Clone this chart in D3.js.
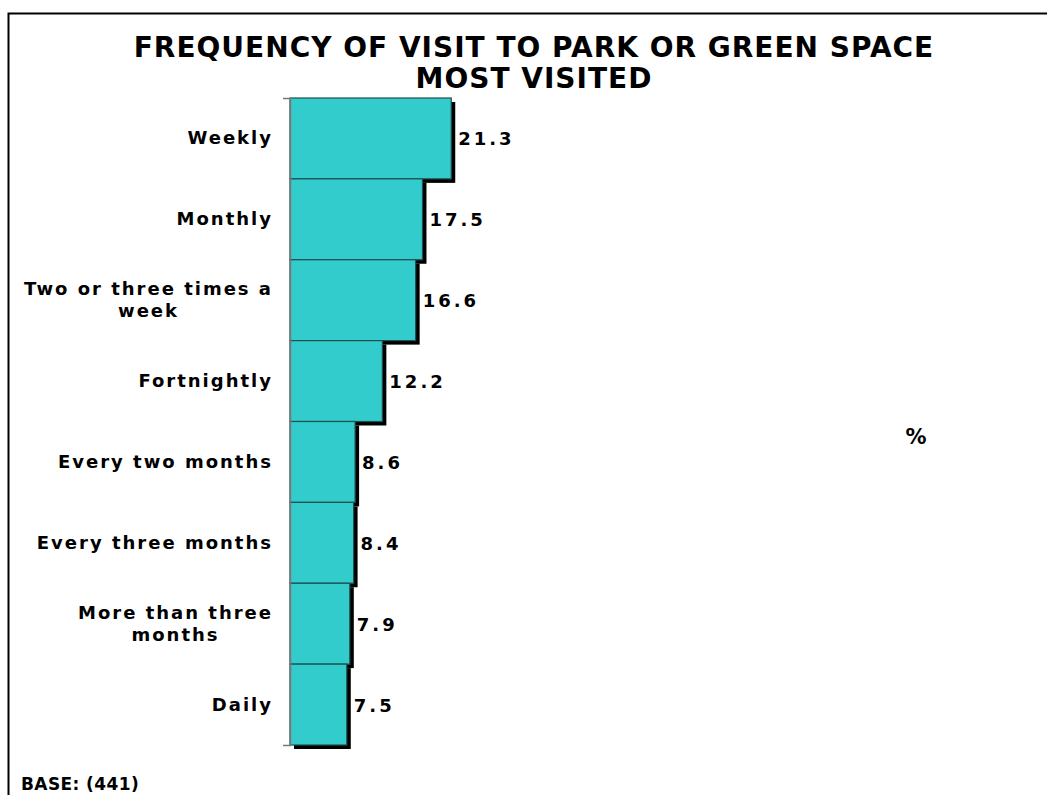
<!DOCTYPE html>
<html>
<head>
<meta charset="utf-8">
<script src="https://cdn.jsdelivr.net/npm/d3@7"></script>
<style>
  html, body { margin: 0; padding: 0; background: #fff; }
  svg { display: block; font-family: "DejaVu Sans", Verdana, sans-serif; }
</style>
</head>
<body>
<svg id="chart" width="1047" height="795"></svg>
<script>
// Frequency categories, in the order they are drawn (top to bottom)
const categories = [
  "Weekly",
  "Monthly",
  "Two or three times a week",
  "Fortnightly",
  "Every two months",
  "Every three months",
  "More than three months",
  "Daily"
];
// Percentage of respondents for each category
const values = [21.3, 17.5, 16.6, 12.2, 8.6, 8.4, 7.9, 7.5];
// Wrapped label lines
const labelLines = [
  ["Weekly"],
  ["Monthly"],
  ["Two or three times a", "week"],
  ["Fortnightly"],
  ["Every two months"],
  ["Every three months"],
  ["More than three", "months"],
  ["Daily"]
];
const titleLines = ["FREQUENCY OF VISIT TO PARK OR GREEN SPACE", "MOST VISITED"];
const baseText = "BASE: (441)";
const unitText = "%";

const svg = d3.select("#chart");
const data = categories.map((c, i) => ({ cat: c, value: values[i], lines: labelLines[i] }));

// Outer frame (top and left edges visible)
svg.append("rect")
  .attr("x", 8.5).attr("y", 13.5)
  .attr("width", 1100).attr("height", 900)
  .attr("fill", "none").attr("stroke", "#000").attr("stroke-width", 2);

const plot = { left: 290, top: 98, bottom: 745 };

const x = d3.scaleLinear().domain([0, 100]).range([plot.left, plot.left + 757]);
const y = d3.scaleBand().domain(categories).range([plot.top, plot.bottom]).padding(0);

// Title
svg.append("text")
  .attr("x", 534).attr("y", 57)
  .attr("text-anchor", "middle")
  .attr("font-size", 28).attr("font-weight", "bold")
  .attr("letter-spacing", 1)
  .selectAll("tspan").data(titleLines).join("tspan")
  .attr("x", 534).attr("dy", (d, i) => i === 0 ? 0 : 31)
  .text(d => d);

// Bar shadows
svg.append("g").selectAll("rect").data(data).join("rect")
  .attr("x", x(0) + 4)
  .attr("y", d => y(d.cat) + 4)
  .attr("width", d => x(d.value) - x(0))
  .attr("height", y.bandwidth())
  .attr("fill", "#000");

// Bars
svg.append("g").selectAll("rect").data(data).join("rect")
  .attr("x", x(0))
  .attr("y", d => y(d.cat))
  .attr("width", d => x(d.value) - x(0))
  .attr("height", y.bandwidth())
  .attr("fill", "#33CCCC")
  .attr("stroke", "#1f4f4f")
  .attr("stroke-width", 1.2);

// Category axis
const axis = svg.append("g")
  .attr("transform", `translate(${plot.left},0)`)
  .call(d3.axisLeft(y).tickSize(0).tickSizeOuter(7).tickFormat(""));
axis.select(".domain").attr("stroke", "#777").attr("stroke-width", 1.5);

// Category labels (lines centred within a right-aligned block)
const labelG = svg.append("g")
  .attr("font-size", 18).attr("font-weight", "bold")
  .attr("letter-spacing", 2).attr("fill", "#000");
data.forEach(d => {
  const cy = y(d.cat) + y.bandwidth() / 2;
  const lh = 22;
  const t = labelG.append("text").attr("text-anchor", "middle");
  const n = d.lines.length;
  d.lines.forEach((ln, i) => {
    t.append("tspan")
      .attr("y", cy + 6 + (i - (n - 1) / 2) * lh)
      .text(ln);
  });
  // measure widest line and right-align the block
  const widths = t.selectAll("tspan").nodes().map(n => n.getComputedTextLength());
  const w = d3.max(widths);
  t.selectAll("tspan").attr("x", 273 - w / 2);
});

// Value labels
svg.append("g").selectAll("text").data(data).join("text")
  .attr("x", d => x(d.value) + 7)
  .attr("y", d => y(d.cat) + y.bandwidth() / 2 + 7)
  .attr("font-size", 18).attr("font-weight", "bold")
  .attr("letter-spacing", 3)
  .text(d => d.value.toFixed(1));

// Unit label
svg.append("text")
  .attr("x", 916).attr("y", 444)
  .attr("text-anchor", "middle")
  .attr("font-size", 21).attr("font-weight", "bold")
  .text(unitText);

// Base note
svg.append("text")
  .attr("x", 21).attr("y", 790)
  .attr("font-size", 17).attr("font-weight", "bold")
  .attr("letter-spacing", 0.4)
  .text(baseText);
</script>
</body>
</html>
